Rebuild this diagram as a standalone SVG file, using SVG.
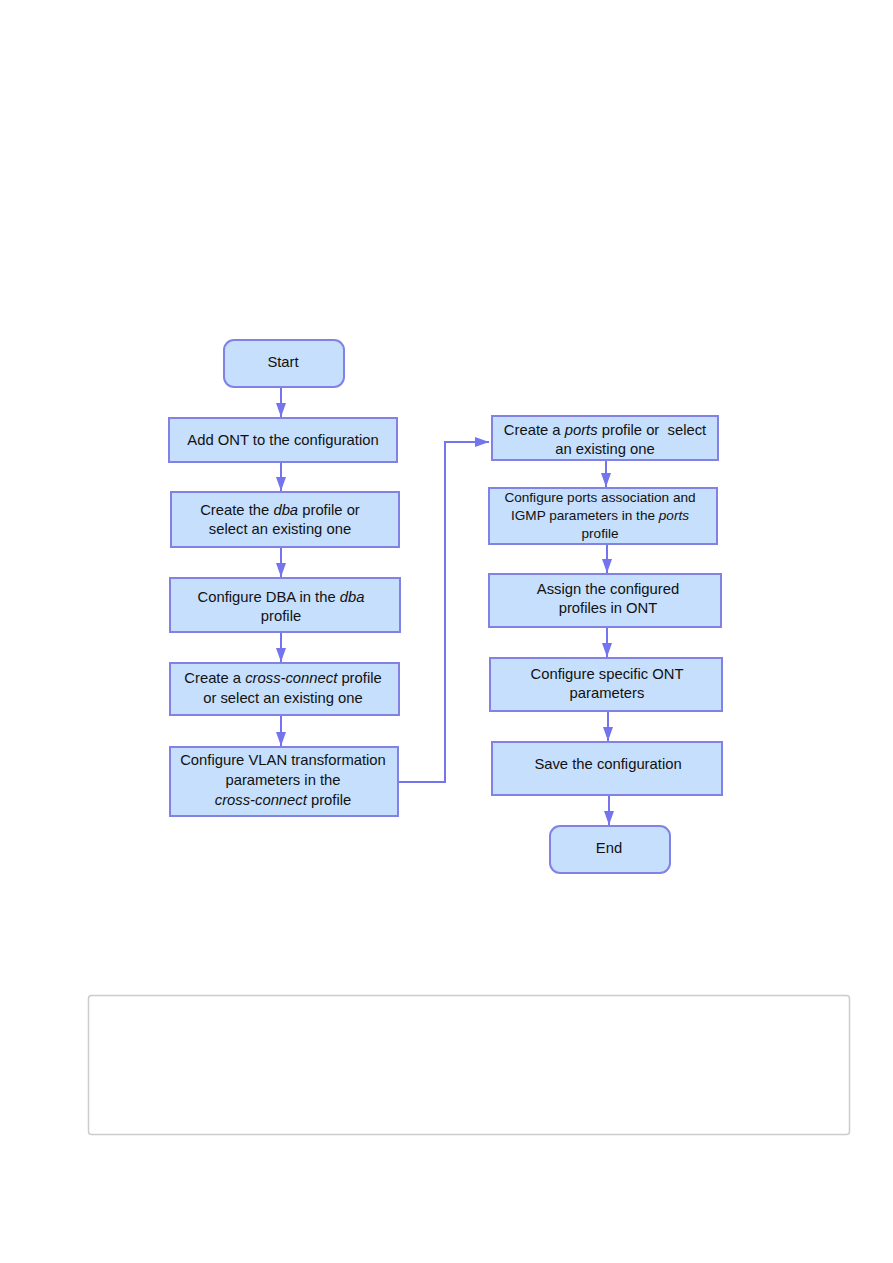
<svg xmlns="http://www.w3.org/2000/svg" width="893" height="1263" viewBox="0 0 893 1263">
<style>
.box{fill:#c6dffc;stroke:#8282e6;stroke-width:2}
.t{font-family:"Liberation Sans",Arial,sans-serif;font-size:14.8px;fill:#111111;text-anchor:middle}
.s{font-size:13.6px}
.i{font-style:italic}
.c{fill:none;stroke:#7474ee;stroke-width:2}
</style>
<defs>
<marker id="ah" viewBox="0 0 14 10" refX="14" refY="5" markerWidth="14" markerHeight="10" markerUnits="userSpaceOnUse" orient="auto">
<path d="M0,0 L14,5 L0,10 Z" fill="#7474ee"/>
</marker>
</defs>
<rect width="893" height="1263" fill="#ffffff"/>
<g id="connectors">
<line class="c" x1="281" y1="388" x2="281" y2="417" marker-end="url(#ah)"/>
<line class="c" x1="281" y1="462" x2="281" y2="491" marker-end="url(#ah)"/>
<line class="c" x1="281" y1="547" x2="281" y2="577" marker-end="url(#ah)"/>
<line class="c" x1="281" y1="632" x2="281" y2="662" marker-end="url(#ah)"/>
<line class="c" x1="281" y1="715" x2="281" y2="746" marker-end="url(#ah)"/>
<polyline class="c" points="399,782 445,782 445,442 489,442" marker-end="url(#ah)"/>
<line class="c" x1="606" y1="460" x2="606" y2="487" marker-end="url(#ah)"/>
<line class="c" x1="607" y1="544" x2="607" y2="573" marker-end="url(#ah)"/>
<line class="c" x1="607" y1="627" x2="607" y2="657" marker-end="url(#ah)"/>
<line class="c" x1="608" y1="711" x2="608" y2="741" marker-end="url(#ah)"/>
<line class="c" x1="609" y1="795" x2="609" y2="825" marker-end="url(#ah)"/>
</g>
<g id="start">
<rect class="box" x="224" y="340" width="120" height="47" rx="10"/>
<text class="t" x="283" y="367">Start</text>
</g>
<g id="add-ont">
<rect class="box" x="169" y="418" width="228" height="44"/>
<text class="t" x="283" y="445">Add ONT to the configuration</text>
</g>
<g id="create-dba">
<rect class="box" x="171" y="492" width="228" height="55"/>
<text class="t" x="280" y="515">Create the <tspan class="i">dba</tspan> profile or</text>
<text class="t" x="280" y="534">select an existing one</text>
</g>
<g id="configure-dba">
<rect class="box" x="170" y="578" width="230" height="54"/>
<text class="t" x="281" y="602">Configure DBA in the <tspan class="i">dba</tspan></text>
<text class="t" x="281" y="621">profile</text>
</g>
<g id="create-cc">
<rect class="box" x="170" y="663" width="229" height="52"/>
<text class="t" x="283" y="683">Create a <tspan class="i">cross-connect</tspan> profile</text>
<text class="t" x="283" y="703">or select an existing one</text>
</g>
<g id="configure-vlan">
<rect class="box" x="170" y="747" width="228" height="69"/>
<text class="t" x="283" y="765">Configure VLAN transformation</text>
<text class="t" x="283" y="785">parameters in the</text>
<text class="t" x="283" y="805"><tspan class="i">cross-connect</tspan> profile</text>
</g>
<g id="create-ports">
<rect class="box" x="492" y="416" width="226" height="44"/>
<text class="t" x="605" y="435">Create a <tspan class="i">ports</tspan> profile or&#160; select</text>
<text class="t" x="605" y="454">an existing one</text>
</g>
<g id="configure-ports">
<rect class="box" x="489" y="488" width="228" height="56"/>
<text class="t s" x="600" y="502">Configure ports association and</text>
<text class="t s" x="600" y="520">IGMP parameters in the <tspan class="i">ports</tspan></text>
<text class="t s" x="600" y="538">profile</text>
</g>
<g id="assign">
<rect class="box" x="489" y="574" width="232" height="53"/>
<text class="t" x="608" y="594">Assign the configured</text>
<text class="t" x="608" y="613">profiles in ONT</text>
</g>
<g id="configure-specific">
<rect class="box" x="490" y="658" width="232" height="53"/>
<text class="t" x="607" y="679">Configure specific ONT</text>
<text class="t" x="607" y="698">parameters</text>
</g>
<g id="save">
<rect class="box" x="492" y="742" width="230" height="53"/>
<text class="t" x="608" y="769">Save the configuration</text>
</g>
<g id="end">
<rect class="box" x="550" y="826" width="120" height="47" rx="10"/>
<text class="t" x="609" y="853">End</text>
</g>
<g id="note-box">
<rect x="88.5" y="995.5" width="761" height="139" rx="3" fill="#ffffff" stroke="#cccccc" stroke-width="1.5"/>
</g>
</svg>
